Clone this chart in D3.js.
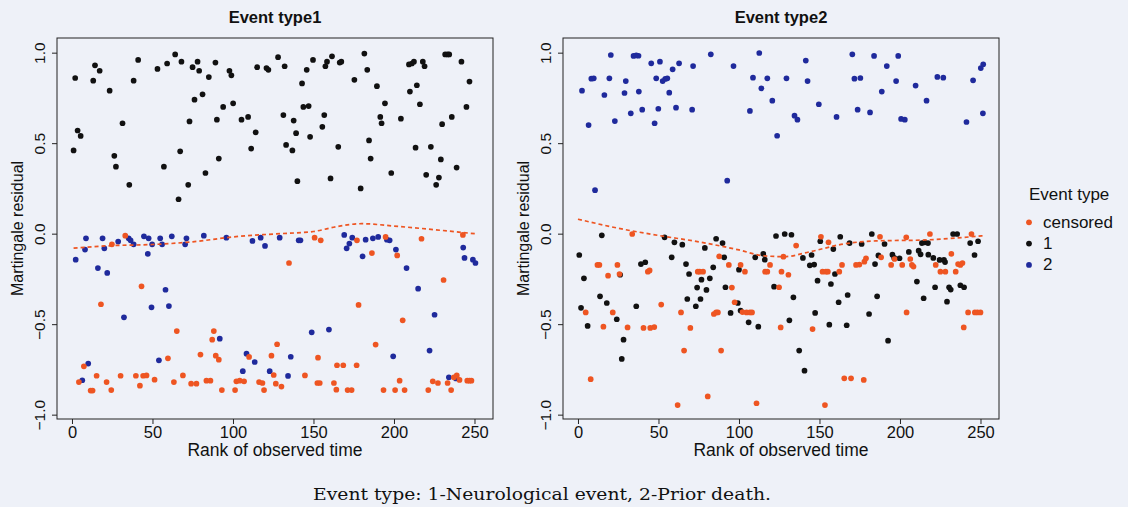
<!DOCTYPE html>
<html><head><meta charset="utf-8">
<script src="https://cdn.jsdelivr.net/npm/d3@7"></script>
<style>
html,body{margin:0;padding:0;background:#eef1f8;}
svg{display:block;}
text{font-family:"Liberation Sans",Arial,sans-serif;fill:#111;}
</style></head><body>
<script>
// ---------- DATA ----------
const panelTitles = ["Event type1", "Event type2"];
const xTicks = [0, 50, 100, 150, 200, 250];
const yTicks = [-1.0, -0.5, 0.0, 0.5, 1.0];
const legendLabels = ["censored", "1", "2"];
const caption = "Event type: 1-Neurological event, 2-Prior death.";

// Panel 1 (Event type1): [rank, residual]
const p1Event1 = [[1,0.46],[2,0.86],[3.5,0.57],[5.4,0.54],[13.2,0.845],[14.3,0.93],[17.2,0.90],[23.4,0.79],[26.3,0.43],[27.3,0.37],[31.4,0.61],[35.6,0.27],[38.3,0.845],[41.1,0.96],[53.1,0.91],[57.1,0.37],[59.1,0.94],[64.1,0.99],[66.2,0.19],[67.2,0.455],[68,0.95],[72.2,0.27],[73,0.62],[74.9,0.92],[76.1,0.74],[78,0.95],[79,0.90],[81.1,0.77],[82.9,0.335],[85,0.865],[89.1,0.945],[90,0.63],[91.2,0.415],[93.9,0.70],[97.8,0.90],[99,0.875],[100.1,0.72],[105.3,0.63],[109.4,0.645],[111.3,0.47],[114.1,0.56],[115,0.92],[120.8,0.915],[122,0.905],[128,0.975],[131.3,0.655],[132.1,0.925],[133,0.49],[136.9,0.46],[137.7,0.625],[139.2,0.555],[140,0.29],[142.9,0.83],[143.7,0.70],[145.8,0.905],[147,0.705],[147.9,0.535],[149.7,0.96],[155.5,0.59],[156.7,0.655],[157.4,0.925],[158.4,0.95],[160.6,0.305],[161.5,0.98],[165.4,0.48],[166.3,0.945],[167.3,0.95],[175.4,0.85],[179.3,0.25],[181.6,0.995],[183.4,0.905],[184.5,0.515],[185.5,0.415],[189.4,0.815],[191.5,0.645],[192.3,0.61],[194.4,0.72],[198.3,0.335],[204.3,0.635],[209.3,0.935],[209.9,0.785],[211.1,0.94],[212.4,0.95],[213.4,0.475],[214.2,0.82],[216.1,0.715],[217.9,0.95],[219,0.925],[220,0.325],[222.9,0.48],[226.2,0.27],[227.9,0.31],[229.1,0.41],[229.9,0.605],[231.8,0.99],[233.3,0.99],[234.3,0.99],[235.9,0.645],[238.9,0.365],[241.9,0.95],[245,0.70],[246.9,0.84]];
const p1Event2 = [[2.3,-0.144],[6.4,-0.81],[8.7,-0.026],[8.1,-0.088],[10.1,-0.718],[16.1,-0.19],[19,-0.026],[20.1,-0.081],[21.9,-0.217],[28.7,-0.044],[32.3,-0.462],[35.2,-0.026],[36.4,-0.037],[38.3,-0.059],[44.7,-0.015],[47.6,-0.026],[47.1,-0.112],[49.4,-0.407],[49.8,-0.059],[54.8,-0.026],[54,-0.70],[56,-0.059],[58.1,-0.31],[60.2,-0.40],[62,-0.015],[70.3,-0.059],[71.1,-0.026],[81.9,-0.011],[91.8,-0.58],[95.9,-0.022],[106.1,-0.76],[108.4,-0.663],[112.1,-0.04],[113.5,-0.709],[117.2,-0.022],[119.9,-0.068],[122.8,-0.76],[129,-0.022],[134.2,-0.786],[135.9,-0.68],[140.8,-0.037],[141.9,-0.037],[148.9,-0.545],[159.6,-0.53],[169.1,-0.007],[170.6,-0.081],[172.3,-0.055],[174.1,-0.022],[180.5,-0.125],[182.4,-0.033],[186.9,-0.026],[190.2,-0.018],[195.6,-0.033],[197.3,-0.037],[199.5,-0.678],[201.2,-0.088],[207.8,-0.19],[215,-0.304],[222.1,-0.646],[225.2,-0.448],[234.1,-0.794],[238.5,-0.80],[243.8,-0.134],[243,-0.077],[249,-0.144],[250.6,-0.162]];
const p1Censored = [[33.1,-0.011],[24.8,-0.059],[4.3,-0.82],[7.4,-0.733],[11.6,-0.867],[12.8,-0.867],[15.3,-0.785],[18,-0.39],[21.5,-0.82],[24.4,-0.864],[30.2,-0.785],[39.7,-0.785],[42.2,-0.84],[43.2,-0.291],[44.2,-0.785],[46.3,-0.783],[51.3,-0.807],[59.6,-0.689],[63.3,-0.82],[65.1,-0.538],[68.9,-0.783],[74,-0.829],[77.3,-0.829],[79.8,-0.668],[83.5,-0.812],[86,-0.812],[87.1,-0.586],[88.1,-0.538],[89.3,-0.674],[91.2,-0.696],[93.1,-0.864],[101.3,-0.864],[102.1,-0.816],[104.2,-0.812],[106.9,-0.816],[110,-0.681],[116.2,-0.82],[118.3,-0.825],[119.3,-0.864],[123.9,-0.674],[125.3,-0.781],[126.6,-0.829],[127.4,-0.611],[130.1,-0.845],[134.8,-0.162],[144.7,-0.783],[150.7,-0.022],[154.5,-0.037],[152.4,-0.825],[153.9,-0.825],[152.8,-0.685],[162.7,-0.825],[164.2,-0.862],[164.6,-0.727],[168.5,-0.727],[171.2,-0.864],[173.7,-0.864],[176.8,-0.727],[177,-0.037],[178,-0.394],[186.3,-0.107],[188.6,-0.613],[193.5,-0.864],[194.8,-0.018],[200.7,-0.864],[202,-0.12],[203.5,-0.812],[205.4,-0.479],[206.6,-0.864],[217.1,-0.028],[221.3,-0.864],[224.1,-0.816],[227.3,-0.825],[230.8,-0.256],[233.3,-0.825],[235.5,-0.864],[237.2,-0.794],[239,-0.783],[240.7,-0.808],[242.8,-0.007],[245.5,-0.812],[246.9,-0.812],[248.1,-0.812]];
const p1Smooth = [[1,-0.08],[25,-0.066],[50,-0.06],[75,-0.045],[100,-0.018],[125,-0.002],[150,0.012],[165,0.04],[180,0.055],[200,0.042],[225,0.022],[252,-0.002]];

// Panel 2 (Event type2): [rank, residual]
const p2Event1 = [[0.8,-0.118],[3.7,-0.247],[1.9,-0.41],[6,-0.51],[14.8,-0.009],[13.7,-0.346],[17.9,-0.383],[24.1,-0.473],[26.2,-0.227],[28.3,-0.586],[27.2,-0.692],[36.2,-0.401],[39.1,-0.168],[41.8,-0.158],[53.8,-0.02],[58.2,-0.131],[59.9,-0.048],[64.8,-0.061],[67.1,-0.168],[67.9,-0.361],[69,-0.223],[73.2,-0.401],[74,-0.298],[76.1,-0.361],[76.7,-0.254],[78.8,-0.079],[79.8,-0.311],[81.9,-0.247],[84,-0.186],[85.8,-0.028],[89.8,-0.052],[90.8,-0.131],[91.6,-0.296],[94.8,-0.438],[99.3,-0.383],[100,-0.199],[101,-0.425],[106,-0.49],[110.1,-0.131],[112,-0.514],[115.1,-0.112],[116,-0.144],[121.8,-0.293],[123,-0.013],[128.4,-0.002],[132.6,-0.006],[131.3,-0.479],[133.8,-0.352],[137.4,-0.646],[139.7,-0.134],[140.7,-0.757],[144,-0.175],[145.1,-0.118],[146.7,-0.171],[147.3,-0.438],[148.8,-0.26],[150.5,-0.042],[156.1,-0.503],[157.1,-0.278],[158.6,-0.085],[159.6,-0.223],[161.9,-0.379],[162.9,-0.017],[166.9,-0.506],[167.5,-0.339],[168.7,-0.052],[176.2,-0.057],[180.8,-0.444],[182.5,-0.002],[184.5,-0.168],[185.8,-0.346],[186.6,-0.12],[190.4,-0.057],[192.6,-0.591],[195.3,-0.116],[196.4,-0.134],[199.7,-0.136],[205.5,-0.101],[210.5,-0.265],[211.6,-0.094],[212.8,-0.114],[214.7,-0.357],[213.6,-0.052],[215.3,-0.048],[217.4,-0.052],[217.6,-0.116],[220.7,-0.134],[221.8,-0.296],[224.6,-0.145],[227.3,-0.145],[228,-0.157],[229.2,-0.376],[230.5,-0.296],[231.5,-0.309],[233,-0.002],[235.5,-0.002],[237.5,-0.285],[239.8,-0.296],[243.6,-0.052],[246.3,-0.118],[248.5,-0.042]];
const p2Event2 = [[2.5,0.79],[6.6,0.60],[8.3,0.856],[9.8,0.858],[10.6,0.24],[16.4,0.766],[19.5,0.858],[20.4,0.987],[22.9,0.622],[28.9,0.777],[29.7,0.843],[32.8,0.665],[34.5,0.982],[36.2,0.985],[37.6,0.983],[37.8,0.785],[39.9,0.685],[45.5,0.941],[47.6,0.61],[48.6,0.858],[49.9,0.69],[50.9,0.95],[52.6,0.843],[54.2,0.855],[55.5,0.858],[56.7,0.779],[58.8,0.908],[60.9,0.696],[62.8,0.941],[70.9,0.685],[71.5,0.926],[82.5,0.991],[92.7,0.293],[96.6,0.926],[106.8,0.678],[108.7,0.862],[112.6,0.998],[113.9,0.803],[117.6,0.858],[120.7,0.735],[123.7,0.541],[129.5,0.858],[134.5,0.652],[136.3,0.63],[141.5,0.956],[142.6,0.843],[149.6,0.715],[160.6,0.645],[170.4,0.991],[171.7,0.856],[173.7,0.685],[175.4,0.86],[181.4,0.67],[183.9,0.982],[188.7,0.785],[191.8,0.926],[197.6,0.843],[198.9,0.982],[200.7,0.634],[203,0.63],[209.7,0.818],[216.5,0.735],[223.2,0.866],[226.9,0.862],[241.3,0.617],[245.4,0.847],[250.2,0.915],[251.7,0.936],[251.5,0.665]];
const p2Censored = [[33.7,-0.002],[4.8,-0.435],[7.9,-0.804],[12.1,-0.173],[13.3,-0.173],[15.8,-0.514],[18.7,-0.232],[21.6,-0.435],[24.5,-0.173],[25.8,-0.223],[30.8,-0.518],[40.7,-0.521],[43.4,-0.21],[44.5,-0.203],[44.9,-0.521],[47.4,-0.516],[51.7,-0.392],[61.9,-0.947],[64,-0.435],[65.9,-0.646],[69.8,-0.521],[74.4,-0.21],[75.6,-0.21],[77.7,-0.21],[80.6,-0.899],[84.4,-0.444],[85.8,-0.435],[86.9,-0.435],[87.7,-0.125],[88.9,-0.646],[93.7,-0.173],[95.6,-0.298],[97.3,-0.379],[101,-0.173],[103.7,-0.21],[102.2,-0.433],[104.7,-0.435],[106.8,-0.435],[108.1,-0.435],[110.9,-0.937],[116.2,-0.21],[117.6,-0.21],[119.3,-0.173],[124.9,-0.296],[125.9,-0.518],[126.4,-0.21],[127.6,-0.127],[130.7,-0.227],[135.5,-0.066],[145.7,-0.527],[150.9,-0.017],[151.9,-0.21],[153.4,-0.947],[154,-0.21],[155.2,-0.21],[155.6,-0.048],[162.3,-0.21],[164,-0.173],[165.4,-0.799],[169.6,-0.799],[172.7,-0.173],[174.8,-0.171],[177.9,-0.155],[178.9,-0.136],[177.5,-0.808],[188.3,-0.131],[187.6,-0.017],[194.5,-0.173],[196.6,-0.14],[201.4,-0.173],[204.1,-0.435],[203.9,-0.02],[206.4,-0.14],[207.4,-0.173],[208.4,-0.182],[218.6,-0.002],[222.2,-0.173],[225.1,-0.21],[228.2,-0.21],[231.9,-0.112],[234.6,-0.21],[236.1,-0.168],[237.5,-0.173],[238.8,-0.162],[239.6,-0.518],[242.3,-0.435],[244.4,-0.002],[246.5,-0.435],[248.1,-0.435],[250,-0.435]];
const p2Smooth = [[0,0.08],[25,0.03],[50,-0.01],[75,-0.045],[100,-0.09],[115,-0.122],[128,-0.127],[145,-0.098],[165,-0.057],[185,-0.04],[215,-0.035],[252,-0.011]];

// ---------- STYLE / LAYOUT ----------
const W = 1128, H = 507;
const colCensored = "#ee5522", col1 = "#111111", col2 = "#1f2a9c";
const panels = [
  {title: panelTitles[0], left: 57, right: 493, e1: p1Event1, e2: p1Event2, cen: p1Censored, smooth: p1Smooth, order: ["e1","e2","cen"]},
  {title: panelTitles[1], left: 563, right: 999, e1: p2Event1, e2: p2Event2, cen: p2Censored, smooth: p2Smooth, order: ["e2","e1","cen"]}
];
const plotTop = 38, plotBottom = 419;
const sans = '"Liberation Sans",Arial,sans-serif';

const svg = d3.select("body").append("svg").attr("width", W).attr("height", H);
svg.append("rect").attr("width", W).attr("height", H).attr("fill", "#eef1f8");

panels.forEach(p => {
  const x = d3.scaleLinear().domain([-9.3, 261.5]).range([p.left, p.right]);
  const y = d3.scaleLinear().domain([-1.024, 1.081]).range([plotBottom, plotTop]);
  const g = svg.append("g");

  const series = {e1: {d: p.e1, c: col1}, e2: {d: p.e2, c: col2}, cen: {d: p.cen, c: colCensored}};
  p.order.forEach(k => {
    g.append("g").selectAll("circle").data(series[k].d).join("circle")
      .attr("cx", d => x(d[0])).attr("cy", d => y(d[1])).attr("r", 2.85)
      .attr("fill", series[k].c);
  });

  g.append("path").datum(p.smooth)
    .attr("d", d3.line().x(d => x(d[0])).y(d => y(d[1])).curve(d3.curveMonotoneX))
    .attr("fill", "none").attr("stroke", colCensored).attr("stroke-width", 1.7)
    .attr("stroke-dasharray", "4,3");

  g.append("rect").attr("x", p.left).attr("y", plotTop)
    .attr("width", p.right - p.left).attr("height", plotBottom - plotTop)
    .attr("fill", "none").attr("stroke", "#222").attr("stroke-width", 1);

  const xa = g.append("g").attr("transform", `translate(0,${plotBottom})`)
    .call(d3.axisBottom(x).tickValues(xTicks).tickFormat(d3.format("d")).tickSize(5).tickPadding(2));
  xa.select(".domain").remove();
  xa.selectAll("text").attr("font-size", 16.5).attr("fill", "#111").style("font-family", sans);
  xa.selectAll("line").attr("stroke", "#222");

  const ya = g.append("g").attr("transform", `translate(${p.left},0)`)
    .call(d3.axisLeft(y).tickValues(yTicks).tickFormat(d3.format(".1f")).tickSize(5));
  ya.select(".domain").remove();
  ya.selectAll("line").attr("stroke", "#222");
  ya.selectAll("text")
    .attr("x", 0).attr("dy", null).attr("text-anchor", "middle")
    .attr("transform", "translate(-12,0) rotate(-90)")
    .attr("font-size", 15.5).attr("fill", "#111")
    .style("font-family", sans)
    .text(d => (d < 0 ? "\u2212" : "") + Math.abs(d).toFixed(1));

  const cx = (p.left + p.right) / 2;
  g.append("text").attr("x", cx).attr("y", 23).attr("text-anchor", "middle")
    .attr("font-size", 16.5).attr("font-weight", "bold").text(p.title);
  g.append("text").attr("x", cx).attr("y", 456).attr("text-anchor", "middle")
    .attr("font-size", 17.5).text("Rank of observed time");
  g.append("text").attr("transform", `translate(${p.left - 34},${(plotTop + plotBottom) / 2}) rotate(-90)`)
    .attr("text-anchor", "middle").attr("font-size", 16).text("Martingale residual");
});

const leg = svg.append("g");
leg.append("text").attr("x", 1029).attr("y", 200).attr("font-size", 17).text("Event type");
[colCensored, col1, col2].forEach((c, i) => {
  const yy = 222.3 + i * 21.3;
  leg.append("circle").attr("cx", 1029).attr("cy", yy).attr("r", 2.9).attr("fill", c);
  leg.append("text").attr("x", 1043).attr("y", yy + 5.5).attr("font-size", 17).text(legendLabels[i]);
});

svg.append("text").attr("x", 542).attr("y", 500).attr("text-anchor", "middle")
  .style("font-family", '"DejaVu Serif","Liberation Serif",serif').attr("font-size", 17.5)
  .attr("textLength", 458).attr("lengthAdjust", "spacingAndGlyphs")
  .text(caption);
</script>
</body></html>
